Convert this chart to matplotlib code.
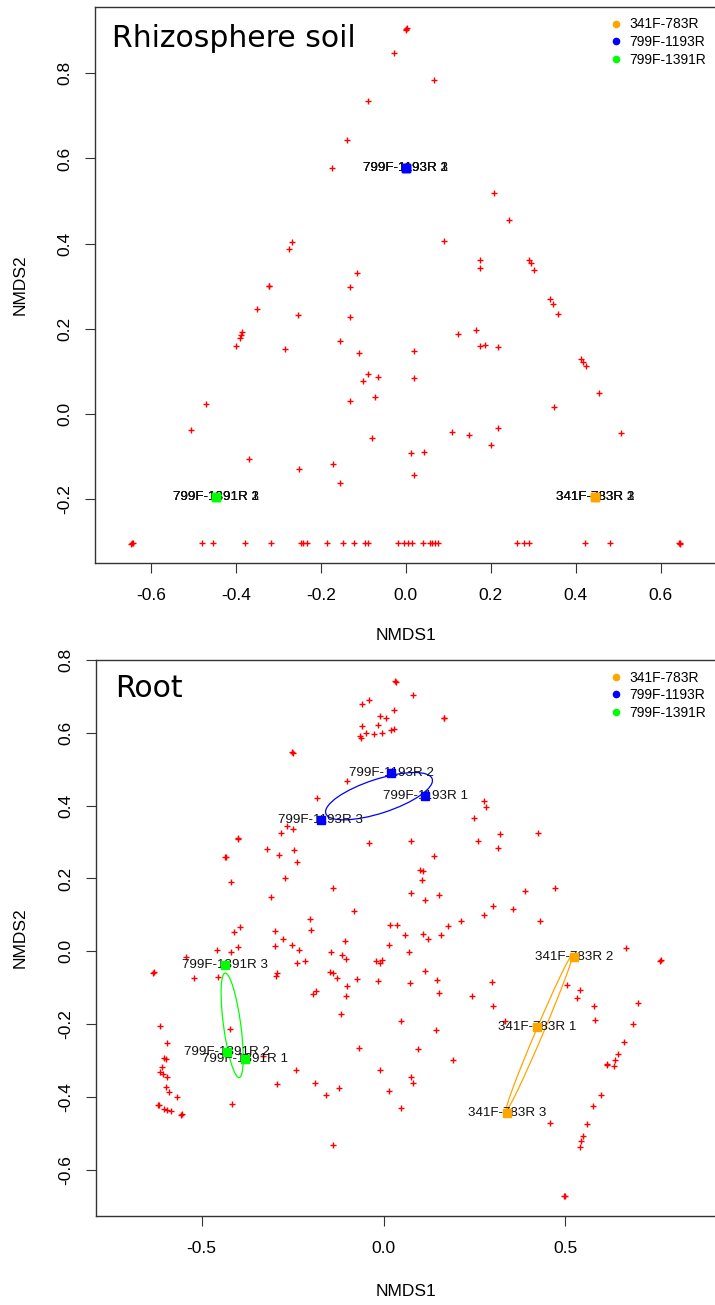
import numpy as np
import matplotlib
matplotlib.use("Agg")
import matplotlib.pyplot as plt
from matplotlib.lines import Line2D
from matplotlib.patches import Ellipse

plt.rcParams['font.family'] = ['Liberation Sans', 'DejaVu Sans']

# ---- data: rhizosphere soil (NMDS scores of OTUs, red crosses)
soil_x = [0.000, 0.003, 0.001, -0.028, 0.067, -0.089, -0.138, -0.173, 0.208, 0.242,
          0.091, -0.267, -0.276, 0.174, 0.175, 0.290, 0.295, 0.303, -0.114, -0.323,
          -0.321, -0.131, 0.340, 0.346, 0.359, -0.351, -0.254, -0.131, -0.386, -0.388,
          -0.391, -0.399, -0.284, -0.156, -0.109, 0.019, 0.124, 0.165, 0.175, 0.187,
          0.218, 0.413, 0.417, 0.424, -0.088, -0.101, -0.066, 0.019, 0.456, -0.072,
          -0.131, -0.471, 0.348, -0.505, 0.108, 0.149, 0.218, 0.507, -0.079, 0.200,
          0.013, 0.044, -0.370, -0.172, -0.251, 0.019, -0.154,
          -0.645, -0.643, -0.646, -0.480, -0.454, -0.378, -0.318, -0.247, -0.242, -0.233,
          -0.185, -0.149, -0.122, -0.097, -0.088, -0.019, -0.004, 0.005, 0.014, 0.041,
          0.056, 0.062, 0.069, 0.076, 0.263, 0.278, 0.290, 0.421, 0.481, 0.644,
          0.646, 0.645]
soil_y = [0.905, 0.907, 0.902, 0.848, 0.784, 0.735, 0.643, 0.577, 0.519, 0.455,
          0.406, 0.403, 0.387, 0.362, 0.343, 0.362, 0.354, 0.337, 0.330, 0.300,
          0.299, 0.298, 0.270, 0.258, 0.235, 0.246, 0.231, 0.228, 0.193, 0.185,
          0.178, 0.159, 0.151, 0.171, 0.142, 0.148, 0.188, 0.197, 0.159, 0.162,
          0.157, 0.129, 0.122, 0.112, 0.093, 0.077, 0.086, 0.083, 0.048, 0.039,
          0.030, 0.022, 0.015, -0.038, -0.044, -0.049, -0.034, -0.046, -0.057, -0.074,
          -0.092, -0.091, -0.107, -0.118, -0.129, -0.144, -0.163,
          -0.305, -0.303, -0.307, -0.305, -0.305, -0.305, -0.305, -0.305, -0.305, -0.305,
          -0.305, -0.305, -0.305, -0.305, -0.305, -0.305, -0.305, -0.305, -0.305, -0.305,
          -0.305, -0.305, -0.305, -0.305, -0.305, -0.305, -0.305, -0.305, -0.305, -0.305,
          -0.303, -0.307]

# ---- data: root
root_x = [0.031, 0.033, 0.080, -0.060, -0.041, 0.029, -0.009, 0.006, 0.165, 0.167,
          -0.058, -0.014, -0.048, -0.026, -0.005, 0.020, 0.029, -0.064, -0.063, -0.252,
          -0.250, -0.101, -0.182, 0.276, 0.283, 0.249, -0.264, -0.249, -0.281, -0.401,
          -0.399, 0.320, 0.424, 0.076, -0.039, 0.261, 0.314, -0.320, -0.246, -0.435,
          -0.433, -0.286, 0.138, -0.237, 0.099, 0.109, 0.107, -0.419, -0.271, -0.140,
          0.471, 0.390, -0.308, 0.076, 0.153, 0.114, -0.080, 0.300, 0.355, 0.277,
          -0.202, 0.429, 0.214, -0.198, -0.394, -0.412, -0.297, 0.019, 0.038, 0.178,
          0.059, 0.109, 0.122, 0.157, -0.276, -0.105, -0.400, -0.298, -0.252, -0.232,
          0.015, -0.459, -0.420, -0.145, 0.071, -0.114, 0.667, -0.544, -0.104, 0.760,
          0.762, -0.021, -0.004, -0.009, -0.238, -0.217,
          -0.634, -0.632, -0.520, -0.456, -0.295, -0.292, -0.148, -0.140, -0.128, -0.099,
          -0.073, -0.016, 0.073, 0.115, 0.147, 0.153, -0.104, -0.193, -0.186, -0.117,
          0.244, 0.297, 0.301, 0.504, 0.541, 0.533, 0.578, 0.699, 0.582, 0.686,
          0.049, 0.143, -0.614, -0.421, 0.335, -0.595, 0.662, -0.066, 0.094, -0.604,
          -0.599, -0.608, 0.644, 0.637, 0.613, 0.615, 0.634, 0.190, -0.330, -0.613,
          -0.606, -0.594, -0.241, -0.009, 0.075, 0.080, -0.293, -0.187, -0.123, -0.598,
          -0.590, -0.567, 0.016, -0.158, 0.598, -0.416, 0.575, 0.049, -0.620, -0.618,
          -0.604, -0.594, -0.583, -0.557, -0.555, 0.457, 0.560, 0.549, 0.544, 0.539,
          -0.138, 0.496, 0.498]
root_y = [0.741, 0.739, 0.705, 0.678, 0.691, 0.664, 0.645, 0.642, 0.642, 0.640,
          0.620, 0.622, 0.600, 0.598, 0.600, 0.607, 0.610, 0.592, 0.585, 0.546,
          0.544, 0.469, 0.420, 0.412, 0.396, 0.365, 0.345, 0.337, 0.324, 0.310,
          0.308, 0.322, 0.326, 0.304, 0.297, 0.302, 0.285, 0.281, 0.278, 0.260,
          0.258, 0.264, 0.263, 0.244, 0.223, 0.220, 0.196, 0.189, 0.200, 0.173,
          0.173, 0.165, 0.149, 0.159, 0.154, 0.140, 0.110, 0.124, 0.116, 0.099,
          0.089, 0.083, 0.083, 0.058, 0.066, 0.052, 0.055, 0.072, 0.072, 0.069,
          0.045, 0.047, 0.034, 0.045, 0.034, 0.028, 0.013, 0.015, 0.016, 0.004,
          0.016, 0.004, -0.002, -0.002, -0.002, -0.009, 0.008, -0.015, -0.022, -0.027,
          -0.025, -0.027, -0.024, -0.033, -0.033, -0.026,
          -0.060, -0.058, -0.074, -0.070, -0.068, -0.059, -0.058, -0.060, -0.074, -0.095,
          -0.076, -0.082, -0.087, -0.054, -0.079, -0.114, -0.123, -0.117, -0.110, -0.172,
          -0.123, -0.085, -0.151, -0.093, -0.106, -0.129, -0.151, -0.143, -0.189, -0.200,
          -0.191, -0.217, -0.206, -0.213, -0.191, -0.251, -0.249, -0.266, -0.269, -0.293,
          -0.296, -0.319, -0.282, -0.298, -0.311, -0.309, -0.316, -0.298, -0.289, -0.331,
          -0.337, -0.344, -0.327, -0.325, -0.344, -0.362, -0.365, -0.362, -0.375, -0.372,
          -0.387, -0.400, -0.383, -0.394, -0.394, -0.419, -0.426, -0.430, -0.423, -0.421,
          -0.432, -0.436, -0.440, -0.450, -0.448, -0.472, -0.474, -0.506, -0.522, -0.537,
          -0.532, -0.673, -0.671]

# ---- primer groups (sample scores, 3 replicates each)
groups = ['341F-783R', '799F-1193R', '799F-1391R']
group_colors = ['orange', 'blue', '#00ff00']
soil_gx = [[0.446, 0.446, 0.446], [0.000, 0.000, 0.000], [-0.447, -0.447, -0.447]]
soil_gy = [[-0.195, -0.195, -0.195], [0.577, 0.577, 0.577], [-0.195, -0.195, -0.195]]
root_gx = [[0.422, 0.523, 0.340], [0.115, 0.021, -0.173], [-0.381, -0.431, -0.436]]
root_gy = [[-0.207, -0.017, -0.445], [0.426, 0.491, 0.361], [-0.295, -0.277, -0.038]]

W, H = 715, 1305
fig = plt.figure(figsize=(W / 100, H / 100), dpi=100)


def px_axes(left, top, right, bottom):
    return fig.add_axes([left / W, 1 - bottom / H, (right - left) / W, (bottom - top) / H])


def draw_ellipse(ax, gx, gy, color):
    # standard deviation ellipse of the replicates (like ordiellipse kind="sd")
    pts = np.column_stack([gx, gy])
    cov = np.cov(pts, rowvar=False)
    if np.linalg.det(cov) < 1e-10:
        return
    vals, vecs = np.linalg.eigh(cov)
    w, h = 2 * np.sqrt(vals[1]), 2 * np.sqrt(vals[0])
    ang = np.degrees(np.arctan2(vecs[1, 1], vecs[0, 1]))
    ax.add_patch(Ellipse(pts.mean(axis=0), w, h, angle=ang, fill=False,
                         edgecolor=color, lw=0.9, zorder=3))


def panel(ax, px, py, gx, gy, xlim, ylim, xticks, yticks, title, title_xy, legend_xy):
    ax.plot(px, py, ls='none', marker='+', color='red', ms=4.6, mew=1.0, zorder=2)
    for k in range(len(groups)):
        draw_ellipse(ax, gx[k], gy[k], group_colors[k])
        for r in range(3):
            ax.text(gx[k][r], gy[k][r], '%s %d' % (groups[k], r + 1), fontsize=9.6,
                    ha='center', va='center', color='#111111', zorder=4)
        ax.plot(gx[k], gy[k], ls='none', marker='s', ms=5.6, color=group_colors[k], zorder=5)
    ax.set_xlim(*xlim)
    ax.set_ylim(*ylim)
    ax.set_xticks(xticks)
    ax.set_yticks(yticks)
    ax.set_xticklabels(['%.1f' % v for v in xticks])
    ax.set_yticklabels(['%.1f' % v for v in yticks], rotation=90, va='center')
    ax.tick_params(axis='both', direction='out', length=7.5, width=0.8, color='#333333',
                   labelsize=12.5)
    ax.tick_params(axis='x', pad=10.5)
    ax.tick_params(axis='y', pad=8.5)
    for s in ax.spines.values():
        s.set_linewidth(1.0)
        s.set_color('#333333')
    ax.text(0.5, 0, 'NMDS1', transform=ax.transAxes, fontsize=12.5, ha='center', va='center')
    ax.text(0, 0.5, 'NMDS2', transform=ax.transAxes, fontsize=12.5, ha='center', va='center',
            rotation=90)
    fig.text(title_xy[0] / W, 1 - title_xy[1] / H, title, fontsize=21.5,
             family=['DejaVu Sans'], ha='left', va='baseline')
    handles = [Line2D([], [], ls='none', marker='o', ms=4.5, color=c) for c in group_colors]
    ax.legend(handles, groups, loc='upper left', bbox_to_anchor=(legend_xy[0] / W, 1 - legend_xy[1] / H),
              bbox_transform=fig.transFigure, frameon=False, fontsize=10, borderpad=0,
              borderaxespad=0, handlelength=0.8, handletextpad=0.6, labelspacing=0.27)


# top panel: Rhizosphere soil
ax1 = px_axes(94.8, 6.7, 716.7, 563.3)
panel(ax1, soil_x, soil_y, soil_gx, soil_gy, (-0.7322, 0.732), (-0.3517, 0.9567),
      [-0.6, -0.4, -0.2, 0.0, 0.2, 0.4, 0.6], [-0.2, 0.0, 0.2, 0.4, 0.6, 0.8],
      'Rhizosphere soil', (112, 47.3), (610, 17.5))
ax1.texts[-2].set_position((0.5, -(636 - 563.3) / 556.6))
ax1.texts[-1].set_position((-(94.8 - 20.5) / 621.9, 0.5))

# bottom panel: Root
ax2 = px_axes(95.8, 660, 716.4, 1216.3)
panel(ax2, root_x, root_y, root_gx, root_gy, (-0.7908, 0.915), (-0.7279, 0.7996),
      [-0.5, 0.0, 0.5], [-0.6, -0.4, -0.2, 0.0, 0.2, 0.4, 0.6, 0.8],
      'Root', (115, 696.7), (610, 670.5))
ax2.texts[-2].set_position((0.5, -(1292 - 1216.3) / 556.3))
ax2.texts[-1].set_position((-(95.8 - 20.5) / 620.6, 0.5))

fig.savefig('out.png', dpi=100)
